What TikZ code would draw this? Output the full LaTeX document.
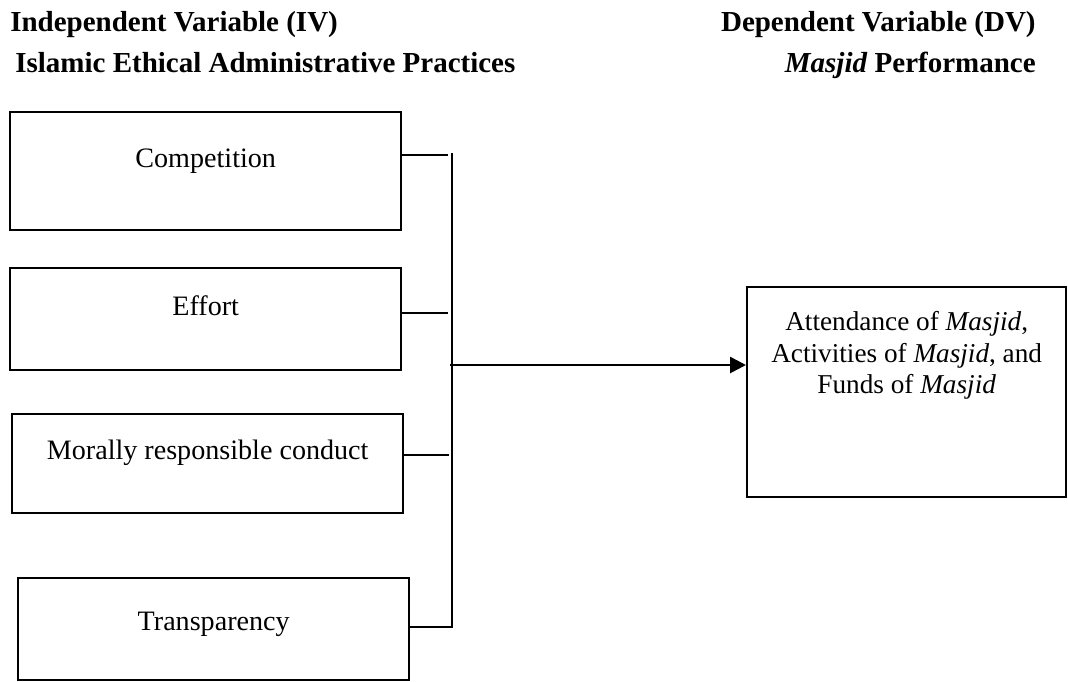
\documentclass[tikz,border=0pt]{standalone}
\usepackage{fontspec}
\setmainfont{Liberation Serif}
\usepackage{tikz}
\usetikzlibrary{
  positioning,
  arrows.meta
}
\definecolor{boxborder}{RGB}{0,0,0}
\definecolor{arrowcolor}{RGB}{0,0,0}
\tikzset{
  headtext/.style={
    inner sep=0pt, font=\fontsize{16.5}{20}\selectfont\bfseries
  },
  ivbox/.style={
    draw=boxborder, line width=1.4pt, inner sep=0pt,
    minimum width=7.82cm, anchor=north west,
    font=\fontsize{16}{19}\selectfont
  },
  dvbox/.style={
    draw=boxborder, line width=1.4pt, inner sep=0pt,
    minimum width=6.38cm, minimum height=4.2cm, anchor=north west
  },
  dvtext/.style={
    inner sep=0pt, align=center, font=\fontsize{15.5}{18}\selectfont
  },
  stubline/.style={
    draw=arrowcolor, line width=0.6pt
  },
  bigarrow/.style={
    -{Triangle[length=9pt, width=9pt]}, line width=1.5pt, draw=arrowcolor
  }
}

\begin{document}
\begin{tikzpicture}[x=0.02cm, y=-0.02cm]
    \useasboundingbox (0,0) rectangle (1068,681);

    % titles
    \node[headtext, anchor=base west] (ivtitle) at (10,31) {Independent Variable (IV)};
    \node[headtext, anchor=base west] (ivname) at (15,72) {Islamic Ethical Administrative Practices};
    \node[headtext, anchor=base east] (dvtitle) at (1036,31) {Dependent Variable (DV)};
    \node[headtext, anchor=base east] (dvname) at (1036,72) {\textit{Masjid} Performance};

    % independent variables
    \node[ivbox, text height=1.1cm, text depth=1.26cm] (comp) at (9,111) {Competition};
    \node[ivbox, text height=0.94cm, text depth=1.1cm] (effort) at (9,267) {Effort};
    \node[ivbox, text height=0.9cm, text depth=1.08cm] (moral) at (11,413) {Morally responsible conduct};
    \node[ivbox, text height=1.04cm, text depth=1.0cm] (trans) at (17,577) {Transparency};

    % dependent variable
    \node[dvbox] (dv) at (746,286) {};
    \node[dvtext, below=0.5cm of dv.north] (dvlabel) {Attendance of \textit{Masjid},\\
      Activities of \textit{Masjid}, and\\
      Funds of \textit{Masjid}};

    \coordinate (bustop) at (452,153);
    \coordinate (busbot) at (452,627);
    \coordinate (busmid) at (450,365);
    \coordinate (j1) at (448,155);
    \coordinate (j2) at (448,313);
    \coordinate (j3) at (449,455);

    \draw[stubline] (comp.east |- j1) -- (j1);
    \draw[stubline] (effort.east |- j2) -- (j2);
    \draw[stubline] (moral.east |- j3) -- (j3);
    \draw[stubline] (trans.east |- busbot) -- (busbot) -- (bustop);

    \draw[bigarrow] (busmid) -- (dv.west |- busmid);

  \end{tikzpicture}
\end{document}
